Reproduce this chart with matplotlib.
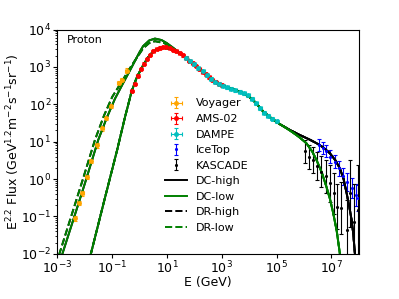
import numpy as np
import matplotlib
matplotlib.use("Agg")
import matplotlib.pyplot as plt

plt.rcParams['font.size'] = 9

# ---------------- model curves (log10 E [GeV], log10 E^2.2 Flux) ----------------
# interstellar (unmodulated) low-energy parts
lis_dc_logE = [-2.95, -2.82, -2.4, -2.0, -1.51, -1.20, -0.90, -0.60, -0.30, 0.0, 0.13, 0.35, 0.56, 0.80, 0.99, 1.25, 1.47, 1.72, 1.90, 2.08]
lis_dc_logF = [-2.30, -2.00, -1.04, -0.12, 1.05, 1.64, 2.15, 2.57, 2.98, 3.40, 3.56, 3.71, 3.76, 3.72, 3.64, 3.50, 3.37, 3.23, 3.13, 3.02]
lis_dr_logE = [-3.05, -2.93, -2.5, -2.1, -1.63, -1.30, -1.0, -0.70, -0.30, 0.13, 0.35, 0.56, 0.90, 1.30, 1.70, 2.08]
lis_dr_logF = [-2.30, -2.00, -1.00, -0.07, 1.05, 1.70, 2.20, 2.55, 3.03, 3.50, 3.64, 3.69, 3.64, 3.45, 3.24, 3.02]
# solar-modulated low-energy part (same for DC and DR)
mod_logE = [-1.90, -1.78, -1.30, -0.82, -0.54, -0.29, -0.11, 0.07, 0.30, 0.50, 0.80, 1.00, 1.23, 1.50, 1.72, 1.90, 2.08]
mod_logF = [-2.30, -2.00, -0.60, 0.78, 1.64, 2.35, 2.71, 2.97, 3.25, 3.42, 3.51, 3.50, 3.46, 3.35, 3.24, 3.13, 3.02]
# common middle part
mid_logE = [2.30, 2.50, 2.81, 3.05, 3.30, 3.55, 3.78, 4.00, 4.15, 4.35, 4.51, 4.70, 4.88, 5.00]
mid_logF = [2.88, 2.75, 2.56, 2.49, 2.43, 2.37, 2.30, 2.20, 2.11, 1.95, 1.81, 1.69, 1.59, 1.53]
# high-energy tails
high_logE = [5.12, 5.50, 5.85, 6.20, 6.46, 6.70, 6.95, 7.15, 7.31, 7.45, 7.56, 7.66, 7.74, 7.80, 7.86, 7.92]
high_logF = [1.47, 1.31, 1.18, 1.06, 0.96, 0.85, 0.69, 0.50, 0.29, 0.00, -0.38, -0.75, -1.09, -1.45, -1.98, -2.40]
low_logE = [5.12, 5.30, 5.61, 5.85, 6.09, 6.30, 6.46, 6.65, 6.82, 6.95, 7.07, 7.20, 7.31, 7.37]
low_logF = [1.47, 1.39, 1.24, 1.11, 0.96, 0.74, 0.51, 0.18, -0.20, -0.53, -0.91, -1.40, -1.98, -2.40]

# ---------------- data (log10 E, log10 E^2.2 Flux, errors in dex) ----------------
voy_logE = [-2.36, -2.22, -2.09, -1.93, -1.78, -1.57, -1.36, -1.23, -1.06, -0.76, -0.66, -0.47]
voy_logF = [-1.05, -0.64, -0.38, 0.05, 0.49, 0.90, 1.36, 1.63, 1.96, 2.56, 2.65, 2.90]
voy_err = [0.06] * 12

ams_logE = [-0.29, -0.18, -0.07, 0.05, 0.16, 0.27, 0.38, 0.50, 0.62, 0.74, 0.86, 0.98, 1.10, 1.22, 1.34,
            1.46, 1.58, 1.70, 1.82, 1.94, 2.06, 2.18, 2.30, 2.42, 2.54, 2.66, 2.78, 2.90, 3.00]
ams_logF = [2.35, 2.55, 2.77, 2.95, 3.09, 3.22, 3.33, 3.42, 3.48, 3.52, 3.54, 3.53, 3.50, 3.46, 3.42,
            3.37, 3.31, 3.24, 3.17, 3.10, 3.02, 2.94, 2.87, 2.80, 2.72, 2.66, 2.60, 2.55, 2.52]

dam_logE = [1.70, 1.85, 2.00, 2.15, 2.30, 2.45, 2.60, 2.75, 2.90, 3.05, 3.20, 3.35, 3.50, 3.65, 3.80,
            3.95, 4.10, 4.25, 4.40, 4.55, 4.70, 4.85, 5.00]
dam_logF = [3.25, 3.16, 3.07, 2.97, 2.88, 2.78, 2.68, 2.60, 2.55, 2.50, 2.46, 2.42, 2.38, 2.34, 2.30,
            2.24, 2.15, 2.03, 1.90, 1.78, 1.70, 1.62, 1.55]

ice_logE = [6.56, 6.68, 6.82, 6.97, 7.13, 7.28, 7.43, 7.58, 7.74, 7.89, 7.96]
ice_logF = [0.91, 0.83, 0.74, 0.60, 0.47, 0.29, 0.07, -0.07, -0.24, -0.42, -0.51]
ice_err = [0.15, 0.15, 0.16, 0.17, 0.18, 0.2, 0.22, 0.24, 0.27, 0.30, 0.35]

kas_logE = [6.03, 6.19, 6.34, 6.48, 6.64, 6.79, 6.95, 7.09, 7.21, 7.37, 7.56, 7.70, 7.82, 7.98]
kas_logF = [0.74, 0.60, 0.51, 0.35, 0.20, 0.07, -0.11, -0.38, -0.74, -0.78, -1.36, -0.38, -1.14, -0.82]
kas_err = [0.3, 0.32, 0.35, 0.38, 0.42, 0.45, 0.5, 0.55, 0.6, 0.7, 0.8, 0.9, 1.0, 1.2]

def lin(v):
    return 10.0 ** np.asarray(v, dtype=float)

def yerr_of(logF, dex):
    f = lin(logF)
    d = np.asarray(dex, dtype=float)
    return [f - f * 10 ** (-d), f * 10 ** d - f]

def xerr_of(logE, dex):
    e = lin(logE)
    return [e - e * 10 ** (-dex), e * 10 ** dex - e]

fig = plt.figure(figsize=(3.99, 2.99), dpi=100)
ax = fig.add_axes([0.144, 0.151, 0.755, 0.750])

ebkw = dict(ls='none', capsize=1.5, elinewidth=0.8, capthick=0.8, ms=2.5)
h_voy = ax.errorbar(lin(voy_logE), lin(voy_logF), yerr=yerr_of(voy_logF, voy_err), xerr=xerr_of(voy_logE, 0.05),
                    fmt='o', color='orange', label='Voyager', **ebkw)
h_ams = ax.errorbar(lin(ams_logE), lin(ams_logF), yerr=yerr_of(ams_logF, [0.03] * len(ams_logF)),
                    xerr=xerr_of(ams_logE, 0.05), fmt='o', color='red', label='AMS-02', **ebkw)
h_dam = ax.errorbar(lin(dam_logE), lin(dam_logF), yerr=yerr_of(dam_logF, [0.04] * len(dam_logF)),
                    xerr=xerr_of(dam_logE, 0.07), fmt='o', color='c', label='DAMPE', **ebkw)
h_ice = ax.errorbar(lin(ice_logE), lin(ice_logF), yerr=yerr_of(ice_logF, ice_err),
                    fmt='.', color='blue', label='IceTop', **ebkw)
h_kas = ax.errorbar(lin(kas_logE), lin(kas_logF), yerr=yerr_of(kas_logF, kas_err),
                    fmt='.', color='black', label='KASCADE', **ebkw)

def curve(lowE, lowF, tE, tF):
    return lin(list(lowE) + mid_logE + tE), lin(list(lowF) + mid_logF + tF)

lw = 1.4
x, y = curve(lis_dc_logE, lis_dc_logF, high_logE, high_logF)
h_dch, = ax.plot(x, y, color='black', lw=lw, label='DC-high')
x, y = curve(mod_logE, mod_logF, high_logE, high_logF)
ax.plot(x, y, color='black', lw=lw)
x, y = curve(lis_dr_logE, lis_dr_logF, high_logE, high_logF)
h_drh, = ax.plot(x, y, color='black', lw=lw, ls='--', label='DR-high')
x, y = curve(mod_logE, mod_logF, high_logE, high_logF)
ax.plot(x, y, color='black', lw=lw, ls='--')
x, y = curve(lis_dc_logE, lis_dc_logF, low_logE, low_logF)
h_dcl, = ax.plot(x, y, color='green', lw=lw, label='DC-low')
x, y = curve(mod_logE, mod_logF, low_logE, low_logF)
ax.plot(x, y, color='green', lw=lw)
x, y = curve(lis_dr_logE, lis_dr_logF, low_logE, low_logF)
h_drl, = ax.plot(x, y, color='green', lw=lw, ls='--', label='DR-low')
x, y = curve(mod_logE, mod_logF, low_logE, low_logF)
ax.plot(x, y, color='green', lw=lw, ls='--')

ax.set_xscale('log')
ax.set_yscale('log')
ax.set_xlim(1e-3, 1e8)
ax.set_ylim(1e-2, 1e4)
ax.tick_params(which='major', length=3, pad=1.5)
ax.tick_params(which='minor', length=1.5)
ax.set_xlabel('E (GeV)', fontsize=9)
ax.set_ylabel(r'E$^{2.2}$ Flux (GeV$^{1.2}$m$^{-2}$s$^{-1}$sr$^{-1}$)', fontsize=9)
ax.xaxis.set_label_coords(0.5, -0.097)
ax.yaxis.set_label_coords(-0.118, 0.5)
ax.text(0.03, 0.975, 'Proton', transform=ax.transAxes, va='top', ha='left', fontsize=8)

handles = [h_voy, h_ams, h_dam, h_ice, h_kas, h_dch, h_dcl, h_drh, h_drl]
ax.legend(handles=handles, labels=[h.get_label() for h in handles],
          loc='upper left', bbox_to_anchor=(0.357, 0.693), frameon=False,
          borderaxespad=0, borderpad=0, fontsize=8)

fig.savefig('out.png', dpi=100)
